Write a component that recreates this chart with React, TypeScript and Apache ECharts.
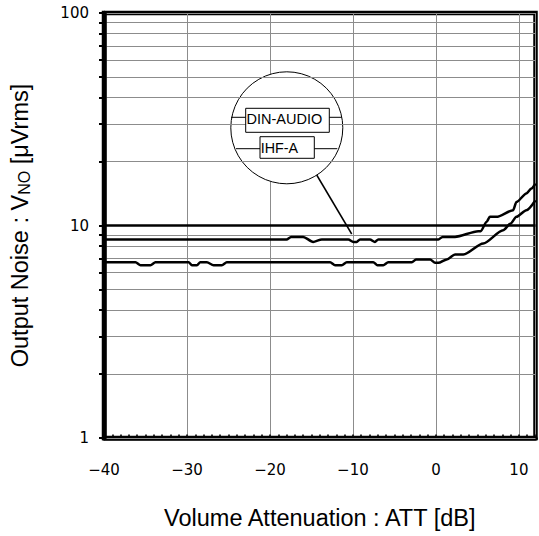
import React, { useEffect, useRef } from "react";
import * as echarts from "echarts";

// ---- data ----
const X_MIN = -40;
const X_MAX = 12;
const X_LABEL_TICKS = [-40, -30, -20, -10, 0, 10];
const X_MINOR_TICKS = Array.from({ length: X_MAX - X_MIN + 1 }, (_, i) => X_MIN + i);
const Y_LABEL_TICKS = [1, 10, 100];
const Y_GRID_VALUES = [1, 2, 3, 4, 5, 6, 7, 8, 9, 10, 20, 30, 40, 50, 60, 70, 80, 90, 100];
const Y_REF_LINE = 10;

const DIN_ATT = [-40, -18, -17.45, -16, -14.8, -13.75, -10.55, -9.95, -9.55, -9.15, -7.95, -7.35, -6.95, 0.3, 0.8, 2.3, 5.1, 5.4, 6.1, 6.5, 7.3, 9.3, 9.7, 10.9, 11.5, 12];
const DIN_VNO = [8.6, 8.6, 8.84, 8.84, 8.37, 8.6, 8.6, 8.37, 8.37, 8.6, 8.6, 8.37, 8.6, 8.6, 8.84, 8.84, 9.4, 9.4, 10.4, 10.98, 10.98, 11.8, 12.9, 14.15, 14.93, 15.76];

const IHF_ATT = [-40, -36.2, -35.6, -34.4, -33.8, -29.8, -29.4, -28.8, -28.4, -27.6, -26.8, -25.8, -25.2, -12.75, -12.15, -11.35, -10.75, -7.55, -7.05, -6.35, -5.75, -2.9, -2.4, -0.7, -0.1, 0.3, 1.3, 2.3, 3.3, 5.7, 8.1, 9.0, 9.7, 10.9, 12];
const IHF_VNO = [6.72, 6.72, 6.5, 6.5, 6.72, 6.72, 6.5, 6.5, 6.72, 6.72, 6.5, 6.5, 6.72, 6.72, 6.5, 6.5, 6.72, 6.72, 6.5, 6.5, 6.72, 6.72, 6.92, 6.92, 6.67, 6.67, 6.92, 7.3, 7.3, 8.23, 9.5, 10.22, 10.98, 11.8, 13.15];

const SERIES_NAMES = ["DIN-AUDIO", "IHF-A"];

const GRID_COLOR = "#8c8c8c";
const TICK_FONT = "DejaVu Sans";
const TITLE_FONT = "Liberation Sans";

function pairs(xs: number[], ys: number[]) {
  return xs.map((x, i) => [x, ys[i]]);
}

export default function App() {
  const ref = useRef<HTMLDivElement>(null);

  useEffect(() => {
    if (!ref.current) return;
    const chart = echarts.init(ref.current, undefined, { renderer: "svg" });
    const fmtX = (v: number) => (v < 0 ? "\u2212" + Math.abs(v) : String(v));
    const option: any = {
      animation: false,
      backgroundColor: "#fff",
      grid: {
        left: 104,
        right: 3.5,
        top: 13,
        bottom: 98,
        show: true,
        borderColor: "#000",
        borderWidth: 4.5,
        backgroundColor: "transparent",
      },
      xAxis: [
        {
          type: "value",
          min: X_MIN,
          max: X_MAX,
          interval: 10,
          position: "bottom",
          z: 0,
          axisLine: { show: true, onZero: false, lineStyle: { color: "#000", width: 4.5 } },
          axisTick: { show: false },
          axisLabel: {
            customValues: X_LABEL_TICKS,
            formatter: fmtX,
            fontFamily: TICK_FONT,
            fontSize: 15,
            color: "#000",
            margin: 24,
          },
          splitLine: { show: true, lineStyle: { color: GRID_COLOR, width: 1 } },
          name: "Volume Attenuation : ATT [dB]",
          nameLocation: "middle",
          nameGap: 68,
          nameTextStyle: { fontFamily: TITLE_FONT, fontSize: 23.5, color: "#000" },
        },
        {
          type: "value",
          min: X_MIN,
          max: X_MAX,
          position: "bottom",
          z: 3,
          axisLine: { show: false, onZero: false },
          axisLabel: { show: false },
          splitLine: { show: false },
          axisTick: {
            show: true,
            inside: true,
            length: 3.5,
            customValues: X_MINOR_TICKS,
            lineStyle: { color: "#000", width: 1.6 },
          },
        },
      ],
      yAxis: {
        type: "log",
        logBase: 10,
        min: 1,
        max: 100,
        position: "left",
        z: 2,
        axisLine: { show: true, onZero: false, lineStyle: { color: "#000", width: 4.5 } },
        axisTick: {
          show: true,
          inside: false,
          length: 5,
          customValues: Y_GRID_VALUES,
          lineStyle: { color: "#000", width: 2 },
        },
        axisLabel: {
          customValues: Y_LABEL_TICKS,
          formatter: (v: number) => String(Math.round(v)),
          fontFamily: TICK_FONT,
          fontSize: 15,
          color: "#000",
          margin: 15,
        },
        splitLine: { show: true, lineStyle: { color: GRID_COLOR, width: 1 } },
        minorTick: { show: false },
        name: "{a|Output Noise : V}{b|NO}{a| [\u03bcVrms]}",
        nameLocation: "middle",
        nameGap: 72,
        nameTextStyle: {
          fontFamily: TITLE_FONT,
          fontSize: 23.5,
          color: "#000",
          rich: {
            a: { fontFamily: TITLE_FONT, fontSize: 23.5, color: "#000" },
            b: { fontFamily: TITLE_FONT, fontSize: 16, color: "#000", verticalAlign: "bottom" },
          },
        },
      },
      series: [
        {
          name: SERIES_NAMES[0],
          type: "line",
          xAxisIndex: 0,
          data: pairs(DIN_ATT, DIN_VNO),
          showSymbol: false,
          smooth: 0.25,
          smoothMonotone: "x",
          z: 10,
          lineStyle: { color: "#000", width: 2.5 },
          markLine: {
            silent: true,
            symbol: "none",
            label: { show: false },
            lineStyle: { color: "#000", width: 2.5, type: "solid" },
            data: [{ yAxis: Y_REF_LINE }],
          },
        },
        {
          name: SERIES_NAMES[1],
          type: "line",
          xAxisIndex: 0,
          data: pairs(IHF_ATT, IHF_VNO),
          showSymbol: false,
          smooth: 0.25,
          smoothMonotone: "x",
          z: 10,
          lineStyle: { color: "#000", width: 2.5 },
        },
      ],
      graphic: [
        {
          type: "circle",
          z: 1,
          shape: { cx: 286.8, cy: 127.8, r: 56 },
          style: { fill: "#fff", stroke: "#000", lineWidth: 1 },
        },
        {
          type: "line",
          z: 3,
          shape: { x1: 231, y1: 117.3, x2: 341.7, y2: 117.3 },
          style: { stroke: "#000", lineWidth: 1 },
        },
        {
          type: "rect",
          z: 4,
          shape: { x: 245.7, y: 108.3, width: 83.6, height: 24 },
          style: { fill: "#fff", stroke: "#000", lineWidth: 1 },
        },
        {
          type: "text",
          z: 5,
          x: 246.5,
          y: 118.5,
          style: {
            text: SERIES_NAMES[0],
            fontFamily: TITLE_FONT,
            fontSize: 14.5,
            fill: "#000",
            align: "left",
            verticalAlign: "middle",
          },
        },
        {
          type: "line",
          z: 3,
          shape: { x1: 236, y1: 148.7, x2: 337.3, y2: 148.7 },
          style: { stroke: "#000", lineWidth: 1 },
        },
        {
          type: "rect",
          z: 4,
          shape: { x: 260, y: 136.7, width: 54.3, height: 21.6 },
          style: { fill: "#fff", stroke: "#000", lineWidth: 1 },
        },
        {
          type: "text",
          z: 5,
          x: 260.7,
          y: 147.5,
          style: {
            text: SERIES_NAMES[1],
            fontFamily: TITLE_FONT,
            fontSize: 14.3,
            fill: "#000",
            align: "left",
            verticalAlign: "middle",
          },
        },
        {
          type: "line",
          z: 3,
          shape: { x1: 316.7, y1: 175, x2: 351.7, y2: 234 },
          style: { stroke: "#000", lineWidth: 1.5 },
        },
      ],
    };
    chart.setOption(option);
    return () => chart.dispose();
  }, []);

  return (
    <div
      ref={ref}
      style={{ position: "absolute", left: 0, top: 0, width: 539, height: 536, background: "#fff" }}
    />
  );
}
